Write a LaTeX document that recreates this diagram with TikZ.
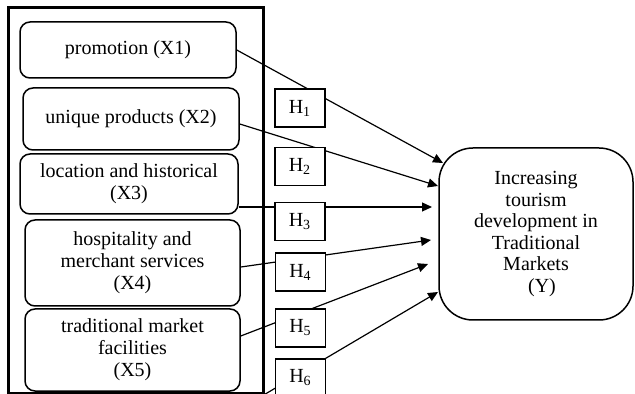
\documentclass[tikz,border=0pt]{standalone}
\usepackage{fontspec}
\setmainfont{Liberation Serif}
\usetikzlibrary{arrows.meta,calc}
\tikzset{
  facbox/.style={draw, rounded corners=5pt, line width=0.75pt, align=center, inner sep=2pt, font=\fontsize{10}{11}\selectfont},
  hypbox/.style={draw, fill=white, line width=0.6pt, minimum width=25pt, minimum height=19pt, inner sep=0pt, font=\fontsize{10}{11}\selectfont},
  outbox/.style={draw, rounded corners=17pt, line width=0.75pt, align=center, inner sep=2pt, font=\fontsize{10}{10.8}\selectfont},
  framebox/.style={draw, line width=1.5pt, inner sep=0pt},
  hyparrow/.style={-{Triangle[length=5pt,width=4.5pt]}, line width=0.6pt}
}

\begin{document}
\begin{tikzpicture}[x=0.5pt, y=-0.5pt]
  \useasboundingbox (0,0) rectangle (635,394);
  \node[framebox, minimum width=127.5pt, minimum height=192.5pt] (frame) at (135.5,200.5) {};
  \node[facbox, minimum width=108pt, minimum height=28pt] (x1) at (128,50) {promotion (X1)};
  \node[facbox, minimum width=108pt, minimum height=31pt] (x2) at (131,119) {unique products (X2)};
  \node[facbox, minimum width=109pt, minimum height=30pt] (x3) at (129,184) {location and historical\\(X3)};
  \node[facbox, minimum width=107.5pt, minimum height=43pt] (x4) at (132.5,263) {hospitality and\\merchant services\\(X4)};
  \node[facbox, minimum width=107.5pt, minimum height=41pt] (x5) at (132.5,350) {traditional market\\facilities\\(X5)};
  \node[outbox, minimum width=97pt, minimum height=86pt] (y) at (536,234) {Increasing\\tourism\\development in\\Traditional\\Markets\\\hspace*{6pt}(Y)};
  \coordinate (t1) at (443,163);
  \coordinate (t2) at (438,186);
  \coordinate (t3) at (432,207);
  \coordinate (t4) at (431,240);
  \coordinate (t5) at (428,264);
  \coordinate (t6) at (438,292);
  \draw[hyparrow] (x1.east) -- (t1);
  \draw[hyparrow] ($(x2.east)+(0,5)$) -- (t2);
  \draw[hyparrow] (x3.east |- t3) -- (t3);
  \draw[hyparrow] ($(x4.east)+(0,4)$) -- (t4);
  \draw[hyparrow] ($(x5.east)+(0,-14)$) -- (t5);
  \draw[hyparrow] (frame.south east) -- (t6);
  \node[hypbox] (h1) at (300,108) {H\textsubscript{1}};
  \node[hypbox] (h2) at (300,166.5) {H\textsubscript{2}};
  \node[hypbox] (h3) at (300,221.5) {H\textsubscript{3}};
  \node[hypbox] (h4) at (300.5,272) {H\textsubscript{4}};
  \node[hypbox] (h5) at (300.5,328) {H\textsubscript{5}};
  \node[hypbox] (h6) at (300.5,378) {H\textsubscript{6}};
\end{tikzpicture}
\end{document}
